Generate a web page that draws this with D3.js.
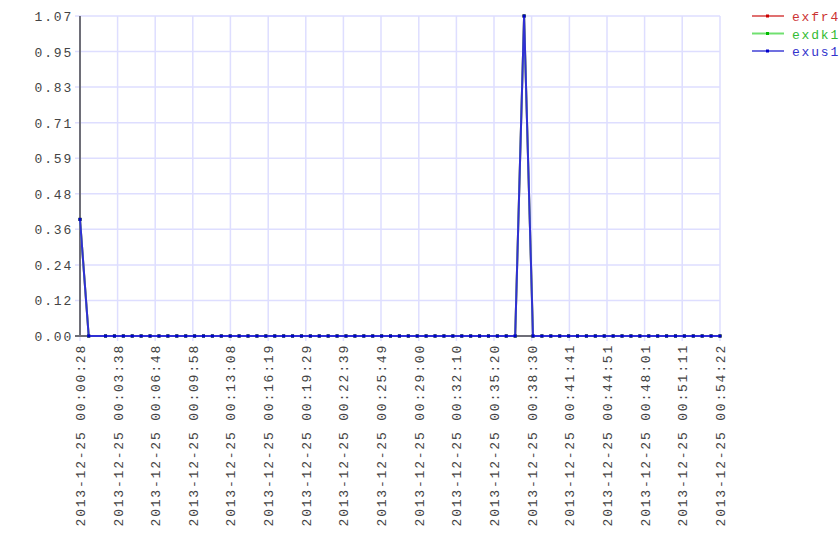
<!DOCTYPE html>
<html>
<head>
<meta charset="utf-8">
<script src="https://cdn.jsdelivr.net/npm/d3@7"></script>
<style>
  body { margin: 0; background: #fff; }
  svg text { font-family: "Liberation Mono", "DejaVu Sans Mono", monospace; font-size: 13px; letter-spacing: 1.8px; }
</style>
</head>
<body>
<div id="chart"></div>
<script>
const DAY = "2013-12-25";

// sample times (hh:mm:ss on DAY)
const times = [
  "00:00:28", "00:01:12",
  "00:02:37", "00:03:22", "00:04:07", "00:04:52", "00:05:37", "00:06:22", "00:07:07", "00:07:52",
  "00:08:37", "00:09:22", "00:10:07", "00:10:52", "00:11:37", "00:12:22", "00:13:07", "00:13:52",
  "00:14:37", "00:15:22", "00:16:07", "00:16:52", "00:17:37", "00:18:22", "00:19:07", "00:19:52",
  "00:20:37", "00:21:22", "00:22:07", "00:22:52", "00:23:37", "00:24:22", "00:25:07", "00:25:52",
  "00:26:37", "00:27:22", "00:28:07", "00:28:52", "00:29:37", "00:30:22", "00:31:07", "00:31:52",
  "00:32:37", "00:33:22", "00:34:07", "00:34:52", "00:35:37", "00:36:22", "00:37:07", "00:37:52",
  "00:38:37", "00:39:22", "00:40:07", "00:40:52", "00:41:37", "00:42:22", "00:43:07", "00:43:52",
  "00:44:37", "00:45:22", "00:46:07", "00:46:52", "00:47:37", "00:48:22", "00:49:07", "00:49:52",
  "00:50:37", "00:51:22", "00:52:07", "00:52:52", "00:53:37", "00:54:22"
];

const exfr4 = [
  0.39, 0,
  0, 0, 0, 0, 0, 0, 0, 0,  0, 0, 0, 0, 0, 0, 0, 0,
  0, 0, 0, 0, 0, 0, 0, 0,  0, 0, 0, 0, 0, 0, 0, 0,
  0, 0, 0, 0, 0, 0, 0, 0,  0, 0, 0, 0, 0, 0, 0, 1.07,
  0, 0, 0, 0, 0, 0, 0, 0,  0, 0, 0, 0, 0, 0, 0, 0,
  0, 0, 0, 0, 0, 0
];
const exdk1 = [
  0.39, 0,
  0, 0, 0, 0, 0, 0, 0, 0,  0, 0, 0, 0, 0, 0, 0, 0,
  0, 0, 0, 0, 0, 0, 0, 0,  0, 0, 0, 0, 0, 0, 0, 0,
  0, 0, 0, 0, 0, 0, 0, 0,  0, 0, 0, 0, 0, 0, 0, 1.07,
  0, 0, 0, 0, 0, 0, 0, 0,  0, 0, 0, 0, 0, 0, 0, 0,
  0, 0, 0, 0, 0, 0
];
const exus1 = [
  0.39, 0,
  0, 0, 0, 0, 0, 0, 0, 0,  0, 0, 0, 0, 0, 0, 0, 0,
  0, 0, 0, 0, 0, 0, 0, 0,  0, 0, 0, 0, 0, 0, 0, 0,
  0, 0, 0, 0, 0, 0, 0, 0,  0, 0, 0, 0, 0, 0, 0, 1.07,
  0, 0, 0, 0, 0, 0, 0, 0,  0, 0, 0, 0, 0, 0, 0, 0,
  0, 0, 0, 0, 0, 0
];

const seriesNames = ["exfr4", "exdk1", "exus1"];
const lineColors = ["#e06c6c", "#6ce06c", "#3030d4"];
const legendLineColors = ["#e07070", "#70e070", "#7070e0"];
const dotColors = ["#cc0000", "#00bb00", "#0000cc"];
const textColors = ["#cc3333", "#33bb33", "#3333cc"];

const yTicks = [0.00, 0.12, 0.24, 0.36, 0.48, 0.59, 0.71, 0.83, 0.95, 1.07];
const yTickPos = [0, 1, 2, 3, 4, 5, 6, 7, 8, 9]; // evenly split
const xTickTimes = [
  "00:00:28", "00:03:38", "00:06:48", "00:09:58", "00:13:08", "00:16:19",
  "00:19:29", "00:22:39", "00:25:49", "00:29:00", "00:32:10", "00:35:20",
  "00:38:30", "00:41:41", "00:44:51", "00:48:01", "00:51:11", "00:54:22"
];

const parse = d3.timeParse("%Y-%m-%d %H:%M:%S");
const W = 840, H = 560;
const plotLeft = 80, plotRight = 720, plotTop = 16, plotBottom = 336;

const x = d3.scaleTime()
  .domain([parse(DAY + " " + xTickTimes[0]), parse(DAY + " " + xTickTimes[xTickTimes.length - 1])])
  .range([plotLeft, plotRight]);
const y = d3.scaleLinear().domain([0, 1.07]).range([plotBottom, plotTop]);
const yStep = d3.scaleLinear().domain([0, 9]).range([plotBottom, plotTop]);

const svg = d3.select("#chart").append("svg")
  .attr("width", W).attr("height", H);

// grid
svg.append("g").selectAll("line").data(yTickPos).join("line")
  .attr("x1", plotLeft - 5).attr("x2", plotRight)
  .attr("y1", d => yStep(d)).attr("y2", d => yStep(d))
  .attr("stroke", "#dedeff").attr("stroke-width", 1.5);

svg.append("g").selectAll("line").data(xTickTimes).join("line")
  .attr("x1", d => x(parse(DAY + " " + d))).attr("x2", d => x(parse(DAY + " " + d)))
  .attr("y1", plotTop).attr("y2", plotBottom + 5)
  .attr("stroke", "#dedeff").attr("stroke-width", 1.5);

// axes lines
svg.append("line").attr("x1", plotLeft).attr("x2", plotLeft).attr("y1", plotTop).attr("y2", plotBottom)
  .attr("stroke", "#6e6e78").attr("stroke-width", 2);
svg.append("line").attr("x1", plotLeft - 5).attr("x2", plotRight).attr("y1", plotBottom).attr("y2", plotBottom)
  .attr("stroke", "#6e6e78").attr("stroke-width", 2);

// y labels
svg.append("g").selectAll("text").data(yTicks).join("text")
  .attr("x", 73).attr("y", (d, i) => yStep(yTickPos[i]) + 5)
  .attr("text-anchor", "end").attr("fill", "#444")
  .text(d => d.toFixed(2));

// x labels
svg.append("g").selectAll("text").data(xTickTimes).join("text")
  .attr("transform", d => "translate(" + (x(parse(DAY + " " + d)) + 5) + "," + (plotBottom + 8) + ") rotate(-90)")
  .attr("text-anchor", "end").attr("fill", "#444")
  .text(d => DAY + " " + d);

// series
const allSeries = [exfr4, exdk1, exus1];
const line = d3.line()
  .x(d => x(parse(DAY + " " + d.t)))
  .y(d => y(d.v));

allSeries.forEach((vals, s) => {
  const pts = vals.map((v, i) => ({t: times[i], v: v}));
  svg.append("path").attr("d", line(pts))
    .attr("fill", "none").attr("stroke", lineColors[s]).attr("stroke-width", 2);
  svg.append("g").selectAll("rect").data(pts).join("rect")
    .attr("x", d => x(parse(DAY + " " + d.t)) - 1.5)
    .attr("y", d => y(d.v) - 1.5)
    .attr("width", 3).attr("height", 3)
    .attr("fill", dotColors[s]);
});

// legend
seriesNames.forEach((name, i) => {
  const ly = 16 + i * 17.5;
  svg.append("line").attr("x1", 752).attr("x2", 784).attr("y1", ly).attr("y2", ly)
    .attr("stroke", legendLineColors[i]).attr("stroke-width", 2);
  svg.append("rect").attr("x", 766).attr("y", ly - 1.5).attr("width", 3).attr("height", 3)
    .attr("fill", dotColors[i]);
  svg.append("text").attr("x", 792).attr("y", ly + 5)
    .attr("fill", textColors[i]).text(name);
});
</script>
</body>
</html>
